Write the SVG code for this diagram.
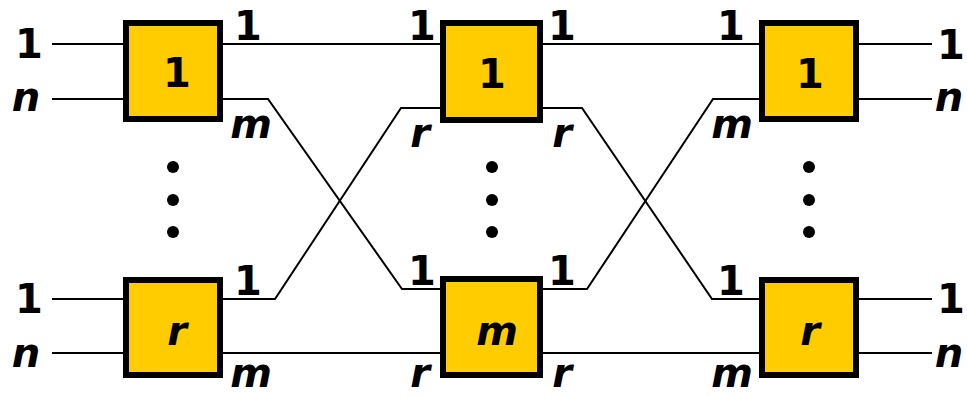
<svg xmlns="http://www.w3.org/2000/svg" width="967" height="397" viewBox="0 0 967 397">
<style>
.box{fill:#FFCC00;stroke:#000;stroke-width:6}
.w{fill:none;stroke:#000;stroke-width:2}
text{font-family:"DejaVu Sans","Verdana",sans-serif;font-weight:bold;font-size:40px;fill:#000;text-anchor:middle}
.i{font-style:italic}
.dot{fill:#000}
</style>
<rect width="967" height="397" fill="#fff"/>
<g id="connectors">
<path class="w" d="M52,44H123M52,99H123M52,299H123M52,353H123"/>
<path class="w" d="M223,44H440"/>
<path class="w" d="M223,99H268L402,289H440"/>
<path class="w" d="M223,299H275L401,108H440"/>
<path class="w" d="M223,353H440"/>
<path class="w" d="M543,44H759"/>
<path class="w" d="M543,108H582L712,299H759"/>
<path class="w" d="M543,289H587L713,99H759"/>
<path class="w" d="M543,353H759"/>
<path class="w" d="M859,44H932M859,99H932M859,299H932M859,353H932"/>
</g>
<g id="in-labels">
<text x="29" y="58">1</text>
<text class="i" x="26" y="111">n</text>
<text x="29" y="313">1</text>
<text class="i" x="26" y="367">n</text>
</g>
<g id="out-labels">
<text x="951" y="59">1</text>
<text class="i" x="949" y="111">n</text>
<text x="951" y="313">1</text>
<text class="i" x="949" y="367">n</text>
</g>
<g id="s1-1">
<rect class="box" x="126" y="23" width="94" height="96"/>
<text x="177" y="87">1</text>
<text x="248" y="40">1</text>
<text class="i" x="251" y="138">m</text>
</g>
<g id="s1-r">
<rect class="box" x="126" y="280" width="94" height="95"/>
<text class="i" x="177" y="345">r</text>
<text x="248" y="295">1</text>
<text class="i" x="251" y="387">m</text>
</g>
<g id="s2-1">
<rect class="box" x="443" y="23" width="97" height="97"/>
<text x="492" y="88">1</text>
<text x="422" y="40">1</text>
<text x="562" y="40">1</text>
<text class="i" x="420" y="147">r</text>
<text class="i" x="562" y="147">r</text>
</g>
<g id="s2-m">
<rect class="box" x="443" y="279" width="97" height="96"/>
<text class="i" x="497" y="345">m</text>
<text x="422" y="285">1</text>
<text x="562" y="285">1</text>
<text class="i" x="420" y="387">r</text>
<text class="i" x="562" y="387">r</text>
</g>
<g id="s3-1">
<rect class="box" x="762" y="23" width="94" height="96"/>
<text x="810" y="88">1</text>
<text x="731" y="40">1</text>
<text class="i" x="732" y="138">m</text>
</g>
<g id="s3-r">
<rect class="box" x="762" y="280" width="94" height="95"/>
<text class="i" x="810" y="345">r</text>
<text x="731" y="295">1</text>
<text class="i" x="732" y="387">m</text>
</g>
<g id="dots">
<circle class="dot" cx="173" cy="167" r="6"/>
<circle class="dot" cx="173" cy="200" r="6"/>
<circle class="dot" cx="173" cy="232" r="6"/>
<circle class="dot" cx="492" cy="167" r="6"/>
<circle class="dot" cx="492" cy="200" r="6"/>
<circle class="dot" cx="492" cy="232" r="6"/>
<circle class="dot" cx="809" cy="167" r="6"/>
<circle class="dot" cx="809" cy="200" r="6"/>
<circle class="dot" cx="809" cy="232" r="6"/>
</g>
</svg>
